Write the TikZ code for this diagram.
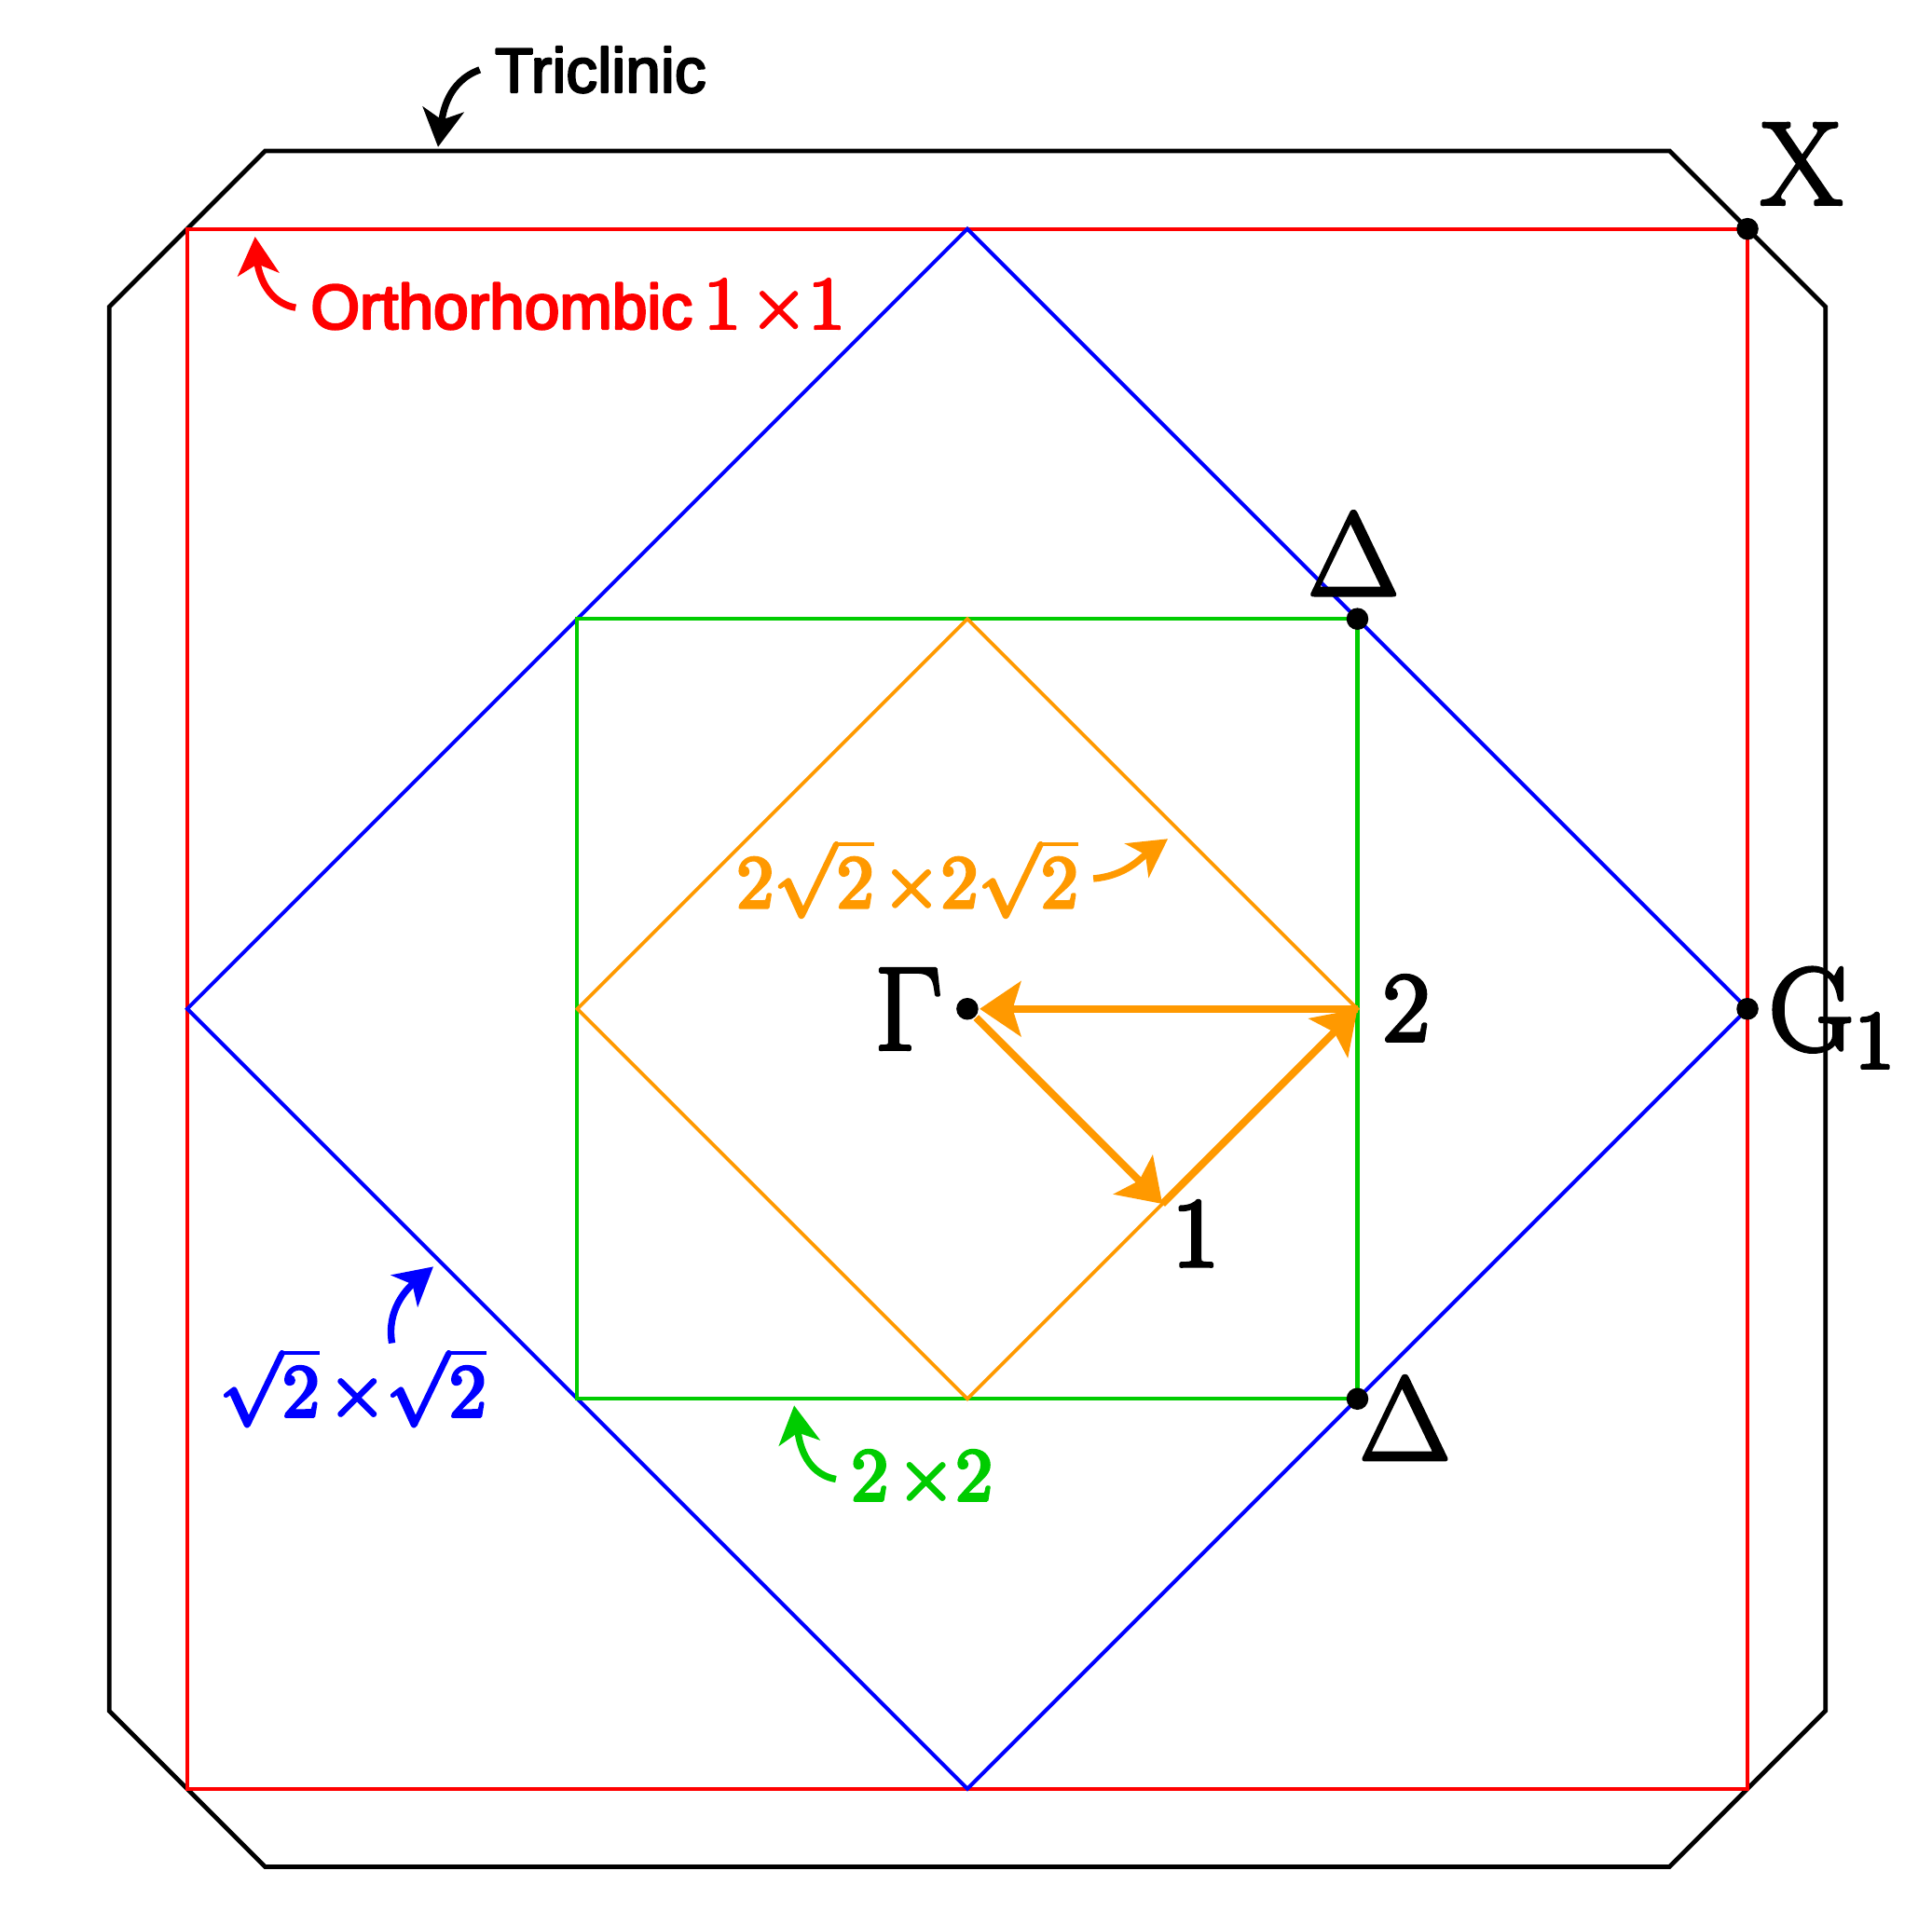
\documentclass[tikz,border=0pt]{standalone}
\usepackage{fontspec}
\newfontfamily\tagfont{Liberation Sans}
\usetikzlibrary{arrows.meta,positioning}
\definecolor{bzred}{RGB}{255,0,0}
\definecolor{bzblue}{RGB}{0,0,255}
\definecolor{bzgreen}{RGB}{0,204,0}
\definecolor{bzorange}{RGB}{255,153,0}
\newcommand\tms{\mskip2mu{\times}}

\begin{document}
\begin{tikzpicture}[
    x=2cm, y=2cm,
    zone/.style={line width=0.55pt},
    inked/.style={
        execute at begin node={\special{pdf:literal direct q 2 Tr #1 w 1 j}},
        execute at end node={\special{pdf:literal direct Q}}},
    inked/.default=0.5,
    dot/.style={circle, fill=black, inner sep=0pt, minimum size=3.2pt},
    point/.style={inked, inner sep=0pt, font=\LARGE},
    digit/.style={inked, inner sep=0pt, font=\Large},
    tag/.style={inked=0.45, inner sep=2pt, font=\fontsize{10.5}{12}\selectfont},
    word/.style={inked=0.3, font=\tagfont\fontsize{9.2}{11}\selectfont},
    pointer/.style={-{Stealth[length=5.5pt, width=6pt, inset=1.5pt]}, line width=1pt},
    hop/.style={-{Stealth[length=6pt, width=8pt, inset=1.2pt]}, line width=1.1pt, bzorange},
    ]
    \useasboundingbox (-2.480,-2.314) rectangle (2.473,2.587);

    % zones
    \draw[zone, line width=0.65pt] (-1.8,2.2) -- (1.8,2.2) -- (2.2,1.8) -- (2.2,-1.8)
        -- (1.8,-2.2) -- (-1.8,-2.2) -- (-2.2,-1.8) -- (-2.2,1.8) -- cycle;
    \draw[zone, bzred] (-2,-2) rectangle (2,2);
    \draw[zone, bzblue] (0,2) -- (2,0) -- (0,-2) -- (-2,0) -- cycle;
    \draw[zone, bzgreen] (-1,-1) rectangle (1,1);
    \draw[zone, bzorange, line width=0.5pt] (0,1) -- (1,0) -- (0,-1) -- (-1,0) -- cycle;

    % points
    \node[dot] (G) at (0,0) {};
    \node[dot] (Xp) at (2,2) {};
    \node[dot] (Dt) at (1,1) {};
    \node[dot] (Db) at (1,-1) {};
    \node[dot] (G1p) at (2,0) {};
    \coordinate (k1) at (0.5,-0.5);
    \coordinate (k2) at (1,0);

    \node[point, anchor=base east] (gam) at (-0.06,-0.104) {$\Gamma$};
    \node[point, anchor=base west] (xl) at (2.03,2.063) {$\mathrm{X}$};
    \node[point, anchor=base] (dtl) at (0.99,1.061) {$\Delta$};
    \node[point, anchor=base] (dbl) at (1.122,-1.156) {$\Delta$};
    \node[point, anchor=base west] (g1l) at (2.05,-0.106) {$\mathrm{G}_1$};
    \node[digit, anchor=base] (k1l) at (0.585,-0.66) {$1$};
    \node[digit, anchor=base] (k2l) at (1.125,-0.082) {$2$};

    % path
    \draw[hop] (G) -- (k1);
    \draw[hop] (k1) -- (k2);
    \draw[hop] (k2) -- (G);

    % names
    \node[tag, word, anchor=west] (tri) at (-1.25,2.408) {Triclinic};
    \node[tag, inked=0.35, anchor=west, bzred] (ortho) at (-1.722,1.798)
        {{\tagfont\fontsize{9.2}{11}\selectfont Orthorhombic}\kern1.6pt$1\tms1$};
    \node[tag, anchor=base, bzblue] (b11) at (-1.575,-1.045) {$\sqrt{2}\tms\sqrt{2}$};
    \node[tag, anchor=west, bzgreen] (g22) at (-0.337,-1.206) {$2\tms2$};
    \node[tag, anchor=east, bzorange] (o22) at (0.323,0.334) {$2\sqrt{2}\tms2\sqrt{2}$};

    \coordinate (triT) at (-1.357,2.21);
    \coordinate (orthoT) at (-1.826,1.98);
    \coordinate (b11T) at (-1.369,-0.661);
    \coordinate (g22T) at (-0.444,-1.017);
    \coordinate (o22T) at (0.514,0.436);

    \draw[pointer] (tri.west) to[out=200, in=82] (triT);
    \draw[pointer, bzred] (ortho.west) to[out=170, in=-85] (orthoT);
    \draw[pointer, bzblue] ([xshift=0.2cm, yshift=-0.05cm]b11.north) to[out=100, in=220] (b11T);
    \draw[pointer, bzgreen] (g22.west) to[out=170, in=-82] (g22T);
    \draw[pointer, bzorange] (o22.east) to[out=5, in=215] (o22T);
\end{tikzpicture}
\end{document}
